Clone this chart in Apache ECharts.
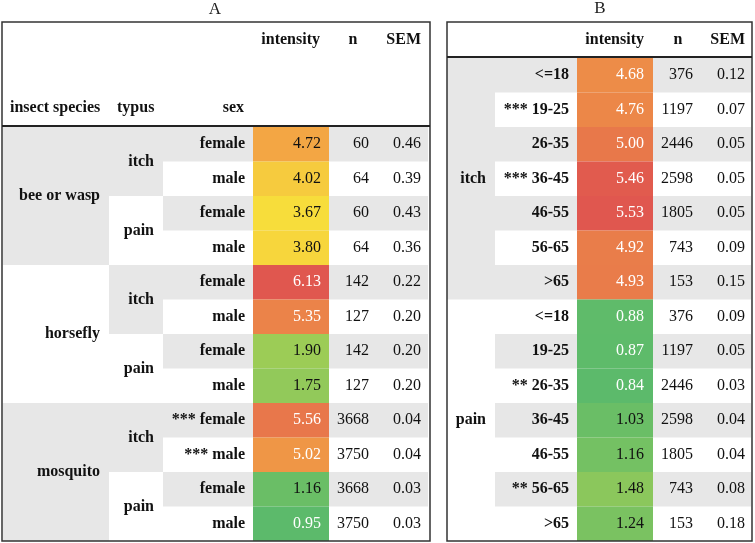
<!DOCTYPE html>
<html><head><meta charset="utf-8">
<script src="https://cdn.jsdelivr.net/npm/echarts@6/dist/echarts.min.js"></script>
<style>html,body{margin:0;padding:0;background:#fff}#c{width:755px;height:543px}</style>
</head><body><div id="c"></div>
<script>
// ---- Panel A data ----
var speciesA = ['bee or wasp','bee or wasp','bee or wasp','bee or wasp','horsefly','horsefly','horsefly','horsefly','mosquito','mosquito','mosquito','mosquito'];
var typusA = ['itch','itch','pain','pain','itch','itch','pain','pain','itch','itch','pain','pain'];
var sexA = ['female','male','female','male','female','male','female','male','female','male','female','male'];
var sigA = ['','','','','','','','','***','***','',''];
var intensityA = [4.72,4.02,3.67,3.80,6.13,5.35,1.90,1.75,5.56,5.02,1.16,0.95];
var nA = [60,64,60,64,142,127,142,127,3668,3750,3668,3750];
var semA = [0.46,0.39,0.43,0.36,0.22,0.20,0.20,0.20,0.04,0.04,0.03,0.03];

// ---- Panel B data ----
var typusB = ['itch','itch','itch','itch','itch','itch','itch','pain','pain','pain','pain','pain','pain','pain'];
var ageB = ['<=18','19-25','26-35','36-45','46-55','56-65','>65','<=18','19-25','26-35','36-45','46-55','56-65','>65'];
var sigB = ['','***','','***','','','','','','**','','','**',''];
var intensityB = [4.68,4.76,5.00,5.46,5.53,4.92,4.93,0.88,0.87,0.84,1.03,1.16,1.48,1.24];
var nB = [376,1197,2446,2598,1805,743,153,376,1197,2446,2598,1805,743,153];
var semB = [0.12,0.07,0.05,0.05,0.05,0.09,0.15,0.09,0.05,0.03,0.04,0.04,0.08,0.18];

var headersA = ['intensity','n','SEM'];
var headersA2 = ['insect species','typus','sex'];

// ---- styling / layout ----
var FONT = '16px "Liberation Serif", "Times New Roman", serif';
var BFONT = 'bold 16px "Liberation Serif", "Times New Roman", serif';
var GREY = '#e7e7e7';
var COLORS = ['#5cba6b','#b3d24f','#f8e43a','#f2a045','#e0574f'];

var chart = echarts.init(document.getElementById('c'));

function rowsOf(n){var r=[];for(var i=0;i<n;i++)r.push(String(i));return r;}

function buildData(intens, n, sem){
  return intens.map(function(v,i){return [0, i, v, n[i], sem[i]];});
}

function groupInfo(arr, i){
  // returns {first: bool, span: int, gi: group index}
  var start=i; while(start>0 && arr[start-1]===arr[i]) start--;
  var end=i; while(end<arr.length-1 && arr[end+1]===arr[i]) end++;
  var gi=0; for(var k=1;k<=start;k++){ if(arr[k]!==arr[k-1]) gi++; }
  return {first: start===i, span: end-start+1, gi: gi};
}

function txt(s, x, y, align, font, fill){
  return {type:'text', style:{text:s, x:x, y:y, align:align, verticalAlign:'middle', font:font, fill:fill||'#111'}, z2:10};
}

function makeRender(cfg){
  return function(params, api){
    var i = api.value(1);
    var v = api.value(2);
    var c = api.coord([cfg.x0, i]);
    var h = api.size([0,1])[1];
    var yTop = c[1]-h/2, yc = c[1];
    var X = function(px){ return api.coord([px, i])[0]; };
    var ch = [];
    // stripe
    if (i % 2 === 0) {
      ch.push({type:'rect', shape:{x:X(cfg.stripe[0]), y:yTop, width:X(cfg.stripe[1])-X(cfg.stripe[0]), height:h}, style:{fill:GREY}, z2:1});
    }
    // group columns
    cfg.groups.forEach(function(g){
      var gi = groupInfo(g.arr, i);
      if (gi.first) {
        var gh = h*gi.span;
        if (gi.gi % 2 === 0) ch.push({type:'rect', shape:{x:X(g.col[0]), y:yTop, width:X(g.col[1])-X(g.col[0]), height:gh}, style:{fill:GREY}, z2:1});
        ch.push(txt(g.arr[i], X(g.tx), yTop+gh/2, 'right', BFONT));
      }
    });
    // row label
    var lab = (cfg.sig[i] ? cfg.sig[i]+' ' : '') + cfg.labels[i];
    ch.push(txt(lab, X(cfg.labTx), yc, 'right', BFONT));
    // intensity cell via visualMap color
    ch.push({type:'rect', shape:{x:X(cfg.intCol[0]), y:yTop, width:X(cfg.intCol[1])-X(cfg.intCol[0]), height:h}, style:{fill:api.visual('color')}, z2:2});
    var frac = (v-cfg.vmin)/(cfg.vmax-cfg.vmin);
    var tc = (frac>0.75 || frac<0.025) ? '#ffffff' : '#111';
    ch.push(txt(v.toFixed(2), X(cfg.intTx), yc, 'right', FONT, tc));
    ch.push(txt(String(api.value(3)), X(cfg.nTx), yc, 'right', FONT));
    ch.push(txt(api.value(4).toFixed(2), X(cfg.semTx), yc, 'right', FONT));
    return {type:'group', children:ch};
  };
}

var minA=Math.min.apply(null,intensityA), maxA=Math.max.apply(null,intensityA);
var minB=Math.min.apply(null,intensityB), maxB=Math.max.apply(null,intensityB);

var cfgA = {x0:3, stripe:[163,428], intCol:[253,329],
  groups:[{arr:speciesA, col:[3,109], tx:100},{arr:typusA.map(function(t,i){return speciesA[i]+'|'+t;}), col:[109,163], tx:154}],
  labels:sexA, sig:sigA, labTx:245, intTx:321, nTx:369, semTx:421, vmin:minA, vmax:maxA};
// typus group display text must be plain typus; wrap arr
cfgA.groups[1].display = typusA;

var cfgB = {x0:447, stripe:[495,751], intCol:[577,653],
  groups:[{arr:typusB, col:[447,495], tx:486}],
  labels:ageB, sig:sigB, labTx:569, intTx:644, nTx:693, semTx:745, vmin:minB, vmax:maxB};

// patch group text display
function patchGroups(cfg){
  cfg.groups.forEach(function(g){ if(!g.display) g.display=g.arr; });
}
patchGroups(cfgA); patchGroups(cfgB);
// override txt for groups using display
var _make = makeRender;
makeRender = function(cfg){
  return function(params, api){
    var i = api.value(1);
    var saved = cfg.groups.map(function(g){return g.arr;});
    var out = _make({
      x0:cfg.x0, stripe:cfg.stripe, intCol:cfg.intCol, labels:cfg.labels, sig:cfg.sig,
      labTx:cfg.labTx, intTx:cfg.intTx, nTx:cfg.nTx, semTx:cfg.semTx, vmin:cfg.vmin, vmax:cfg.vmax,
      groups:[]
    })(params, api);
    var c = api.coord([cfg.x0, i]);
    var h = api.size([0,1])[1];
    var yTop = c[1]-h/2;
    var X = function(px){ return api.coord([px, i])[0]; };
    cfg.groups.forEach(function(g){
      var gi = groupInfo(g.arr, i);
      if (gi.first) {
        var gh = h*gi.span;
        if (gi.gi % 2 === 0) out.children.unshift({type:'rect', shape:{x:X(g.col[0]), y:yTop, width:X(g.col[1])-X(g.col[0]), height:gh}, style:{fill:GREY}, z2:1});
        out.children.push(txt(g.display[i], X(g.tx), yTop+gh/2, 'right', BFONT));
      }
    });
    return out;
  };
};

var TF = '17px "Liberation Serif", "Times New Roman", serif';
var option = {
  backgroundColor:'#fff',
  animation:false,
  grid:[
    {left:3, top:127, width:427, height:414},
    {left:447, top:58, width:305, height:483}
  ],
  xAxis:[
    {gridIndex:0, type:'value', min:3, max:430, show:false},
    {gridIndex:1, type:'value', min:447, max:752, show:false}
  ],
  yAxis:[
    {gridIndex:0, type:'category', data:rowsOf(intensityA.length), inverse:true, show:false},
    {gridIndex:1, type:'category', data:rowsOf(intensityB.length), inverse:true, show:false}
  ],
  visualMap:[
    {show:false, seriesIndex:0, dimension:2, min:minA, max:maxA, inRange:{color:COLORS}},
    {show:false, seriesIndex:1, dimension:2, min:minB, max:maxB, inRange:{color:COLORS}}
  ],
  series:[
    {type:'custom', xAxisIndex:0, yAxisIndex:0, data:buildData(intensityA,nA,semA), renderItem:makeRender(cfgA), encode:{x:0,y:1}, clip:false},
    {type:'custom', xAxisIndex:1, yAxisIndex:1, data:buildData(intensityB,nB,semB), renderItem:makeRender(cfgB), encode:{x:0,y:1}, clip:false}
  ],
  graphic:[
    {type:'text', left:null, x:215, y:10, style:{text:'A', align:'center', verticalAlign:'middle', font:TF, fill:'#222'}},
    {type:'text', x:600, y:9, style:{text:'B', align:'center', verticalAlign:'middle', font:TF, fill:'#222'}},
    // panel borders
    {type:'rect', shape:{x:2, y:22, width:428, height:519}, style:{fill:null, stroke:'#333', lineWidth:1.5}, z:100},
    {type:'rect', shape:{x:447, y:22, width:305, height:519}, style:{fill:null, stroke:'#333', lineWidth:1.5}, z:100},
    {type:'line', shape:{x1:2, y1:126, x2:430, y2:126}, style:{stroke:'#222', lineWidth:2}, z:100},
    {type:'line', shape:{x1:447, y1:57, x2:752, y2:57}, style:{stroke:'#222', lineWidth:2}, z:100},
    // headers A
    {type:'text', x:320, y:40, style:{text:headersA[0], align:'right', verticalAlign:'middle', font:BFONT, fill:'#111'}},
    {type:'text', x:353, y:40, style:{text:headersA[1], align:'center', verticalAlign:'middle', font:BFONT, fill:'#111'}},
    {type:'text', x:421, y:40, style:{text:headersA[2], align:'right', verticalAlign:'middle', font:BFONT, fill:'#111'}},
    {type:'text', x:10, y:108, style:{text:headersA2[0], align:'left', verticalAlign:'middle', font:BFONT, fill:'#111'}},
    {type:'text', x:117, y:108, style:{text:headersA2[1], align:'left', verticalAlign:'middle', font:BFONT, fill:'#111'}},
    {type:'text', x:244, y:108, style:{text:headersA2[2], align:'right', verticalAlign:'middle', font:BFONT, fill:'#111'}},
    // headers B
    {type:'text', x:644, y:40, style:{text:headersA[0], align:'right', verticalAlign:'middle', font:BFONT, fill:'#111'}},
    {type:'text', x:678, y:40, style:{text:headersA[1], align:'center', verticalAlign:'middle', font:BFONT, fill:'#111'}},
    {type:'text', x:745, y:40, style:{text:headersA[2], align:'right', verticalAlign:'middle', font:BFONT, fill:'#111'}}
  ]
};
chart.setOption(option);
</script>
</body></html>
